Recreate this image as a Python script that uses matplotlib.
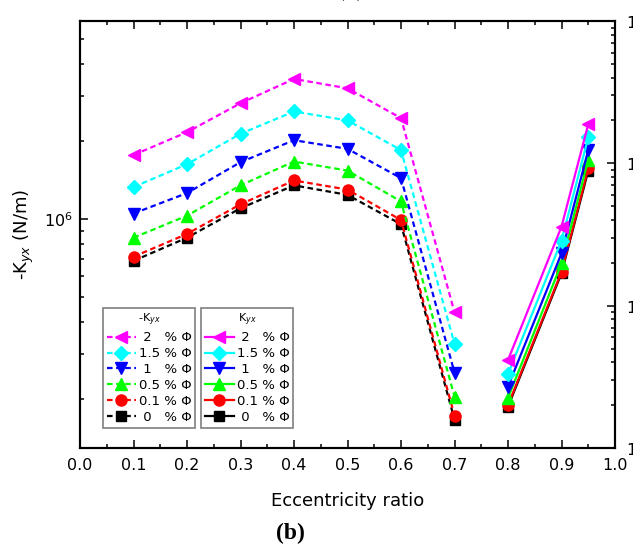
import matplotlib
matplotlib.use("Agg")
import matplotlib.pyplot as plt
from matplotlib.ticker import LogLocator, NullFormatter, MultipleLocator

# eccentricity ratios
ecc_neg = [0.1, 0.2, 0.3, 0.4, 0.5, 0.6, 0.7]
ecc_pos = [0.8, 0.9, 0.95]

# -Kyx (N/m), left axis, one list per porosity level
neg_kyx_2 = [1.77e6, 2.17e6, 2.81e6, 3.49e6, 3.21e6, 2.46e6, 4.35e5]
neg_kyx_15 = [1.33e6, 1.63e6, 2.14e6, 2.61e6, 2.41e6, 1.85e6, 3.28e5]
neg_kyx_1 = [1.05e6, 1.26e6, 1.66e6, 2.02e6, 1.87e6, 1.44e6, 2.54e5]
neg_kyx_05 = [8.46e5, 1.03e6, 1.35e6, 1.67e6, 1.54e6, 1.17e6, 2.05e5]
neg_kyx_01 = [7.14e5, 8.75e5, 1.14e6, 1.41e6, 1.30e6, 9.91e5, 1.73e5]
neg_kyx_0 = [6.88e5, 8.46e5, 1.10e6, 1.35e6, 1.24e6, 9.54e5, 1.67e5]

# Kyx (N/m), right axis
kyx_2 = [4.15e4, 3.59e5, 1.88e6]
kyx_15 = [3.31e4, 2.86e5, 1.52e6]
kyx_1 = [2.70e4, 2.33e5, 1.24e6]
kyx_05 = [2.25e4, 1.98e5, 1.06e6]
kyx_01 = [2.00e4, 1.73e5, 9.23e5]
kyx_0 = [1.95e4, 1.69e5, 8.88e5]

labels = [" 2   % Φ", "1.5 % Φ", " 1   % Φ", "0.5 % Φ", "0.1 % Φ", " 0   % Φ"]
neg_series = [neg_kyx_2, neg_kyx_15, neg_kyx_1, neg_kyx_05, neg_kyx_01, neg_kyx_0]
pos_series = [kyx_2, kyx_15, kyx_1, kyx_05, kyx_01, kyx_0]

colors = ["#ff00ff", "#00ffff", "#0000ff", "#00ff00", "#ff0000", "#000000"]
markers = ["<", "D", "v", "^", "o", "s"]
msizes = [9, 7, 9, 9, 8, 7]

fig = plt.figure(figsize=(6.33, 5.49), dpi=100)
ax = fig.add_axes([80 / 633, 1 - 448 / 549, 535 / 633, 427 / 549])
ax2 = ax.twinx()

neg_handles, pos_handles = [], []
for i in reversed(range(6)):
    ln, = ax.plot(ecc_neg, neg_series[i], color=colors[i], marker=markers[i],
                  ms=msizes[i], lw=1.6, ls=(0, (2.5, 1.6)), label=labels[i])
    neg_handles.insert(0, ln)
    ln2, = ax2.plot(ecc_pos, pos_series[i], color=colors[i], marker=markers[i],
                    ms=msizes[i], lw=1.6, ls="-", label=labels[i])
    pos_handles.insert(0, ln2)

ax.set_xlim(0, 1)
ax.set_yscale("log")
ax.set_ylim(1.295e5, 5.853e6)
ax2.set_yscale("log")
ax2.set_ylim(1e4, 1e7)

ax.xaxis.set_major_locator(MultipleLocator(0.1))
ax.xaxis.set_minor_locator(MultipleLocator(0.05))
ax.set_xticklabels([f"{v:.1f}" for v in ax.get_xticks()])
ax.yaxis.set_minor_locator(LogLocator(base=10, subs=range(2, 10)))
ax.yaxis.set_minor_formatter(NullFormatter())
ax2.yaxis.set_minor_locator(LogLocator(base=10, subs=range(2, 10)))
ax2.yaxis.set_minor_formatter(NullFormatter())

ax.tick_params(which="both", direction="in", top=True, right=False, width=1.1,
               labelsize=11.5)
ax.tick_params(which="major", length=6)
ax.tick_params(which="minor", length=3.2)
ax.tick_params(axis="x", pad=7)
ax.tick_params(axis="y", pad=5)
ax2.tick_params(which="both", direction="in", width=1.1, labelsize=11.5, pad=8)
ax2.tick_params(which="major", length=6)
ax2.tick_params(which="minor", length=3.2)
for a in (ax, ax2):
    for s in a.spines.values():
        s.set_linewidth(1.5)

ax.set_xlabel("Eccentricity ratio", fontsize=13, labelpad=14)
ax.set_ylabel("-K$_{yx}$ (N/m)", fontsize=13, labelpad=6)

leg_kw = dict(fontsize=9.5, title_fontsize=8, loc="upper left",
              bbox_transform=fig.transFigure, fancybox=False, framealpha=1,
              edgecolor="#7f7f7f", handlelength=2.2, handletextpad=0.2,
              labelspacing=0.22, borderpad=0.3, borderaxespad=0)
leg1 = ax2.legend(handles=neg_handles, title="-K$_{yx}$",
                  bbox_to_anchor=(103 / 633, 1 - 308 / 549), **leg_kw)
leg1.get_frame().set_linewidth(1.2)
ax2.add_artist(leg1)
leg2 = ax2.legend(handles=pos_handles, title="K$_{yx}$",
                  bbox_to_anchor=(201 / 633, 1 - 308 / 549), **leg_kw)
leg2.get_frame().set_linewidth(1.2)

fig.text(290 / 633, 1 - 533 / 549, "(b)", ha="center", va="center",
         fontsize=17, fontweight="bold", family="Liberation Serif")
fig.text(351 / 633, 1 - 1.5 / 549, "(a)", ha="center", va="bottom",
         fontsize=17, fontweight="bold", family="Liberation Serif")

fig.savefig("out.png", dpi=100)
